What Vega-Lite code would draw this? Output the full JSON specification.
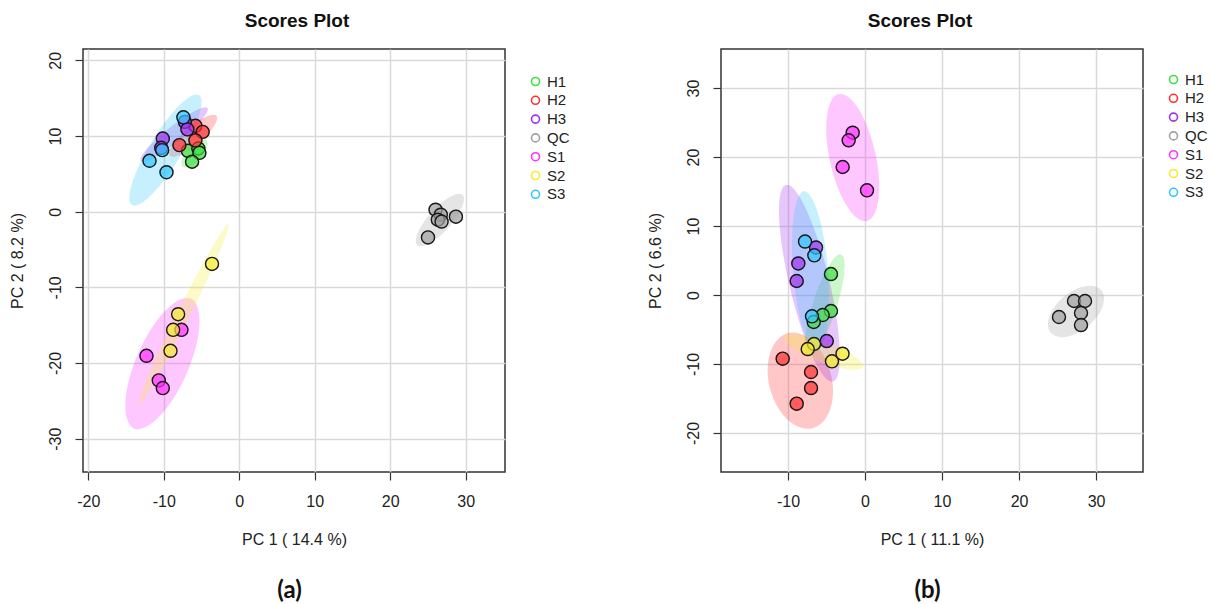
{
  "$schema": "https://vega.github.io/schema/vega-lite/v6.json",
  "background": "white",
  "padding": {"left": 8, "top": 11, "right": 5, "bottom": 5},
  "spacing": 75,
  "resolve": {"scale": {"fill": "independent", "shape": "independent", "stroke": "independent"}, "legend": {"stroke": "independent"}},
  "config": {
    "view": {"stroke": "#333333", "strokeWidth": 1.5},
    "axis": {
      "grid": true, "gridColor": "#d9d9d9", "gridWidth": 1.5,
      "domain": false, "tickColor": "#333333", "tickSize": 8, "tickWidth": 1.2,
      "labelFont": "Liberation Sans", "labelFontSize": 16, "labelColor": "#222222", "labelPadding": 12,
      "labelExpr": "'' + datum.value",
      "titleFont": "Liberation Sans", "titleFontSize": 16, "titleFontWeight": "normal", "titleColor": "#222222"
    },
    "axisX": {"titlePadding": 22, "labelPadding": 13},
    "axisY": {"labelAngle": -90, "labelAlign": "center", "labelBaseline": "bottom", "titlePadding": 22},
    "title": {"font": "Liberation Sans", "fontSize": 19, "fontWeight": "bold", "color": "#111111"}
  },
  "datasets": {
    "scoresA": [
      {"group": "H1", "pc1": -6.80, "pc2": 8.05},
      {"group": "H1", "pc1": -5.42, "pc2": 8.35},
      {"group": "H1", "pc1": -5.28, "pc2": 7.78},
      {"group": "H1", "pc1": -6.25, "pc2": 6.60},
      {"group": "H2", "pc1": -5.81, "pc2": 11.35},
      {"group": "H2", "pc1": -4.85, "pc2": 10.55},
      {"group": "H2", "pc1": -7.93, "pc2": 8.80},
      {"group": "H2", "pc1": -5.81, "pc2": 9.43},
      {"group": "H3", "pc1": -7.20, "pc2": 11.87},
      {"group": "H3", "pc1": -6.87, "pc2": 10.88},
      {"group": "H3", "pc1": -10.13, "pc2": 9.67},
      {"group": "H3", "pc1": -10.34, "pc2": 8.44},
      {"group": "QC", "pc1": 26.0, "pc2": 0.26},
      {"group": "QC", "pc1": 26.7, "pc2": -0.4},
      {"group": "QC", "pc1": 26.3, "pc2": -1.06},
      {"group": "QC", "pc1": 26.8, "pc2": -1.3},
      {"group": "QC", "pc1": 28.7, "pc2": -0.66},
      {"group": "QC", "pc1": 25.0, "pc2": -3.4},
      {"group": "S1", "pc1": -7.66, "pc2": -15.61},
      {"group": "S1", "pc1": -12.29, "pc2": -19.04},
      {"group": "S1", "pc1": -10.66, "pc2": -22.30},
      {"group": "S1", "pc1": -10.13, "pc2": -23.31},
      {"group": "S2", "pc1": -3.61, "pc2": -6.90},
      {"group": "S2", "pc1": -8.10, "pc2": -13.55},
      {"group": "S2", "pc1": -8.76, "pc2": -15.61},
      {"group": "S2", "pc1": -9.11, "pc2": -18.38},
      {"group": "S3", "pc1": -7.40, "pc2": 12.47},
      {"group": "S3", "pc1": -10.21, "pc2": 8.14},
      {"group": "S3", "pc1": -11.89, "pc2": 6.73},
      {"group": "S3", "pc1": -9.64, "pc2": 5.21}
    ],
    "scoresB": [
      {"group": "H1", "pc1": -4.42, "pc2": 3.04},
      {"group": "H1", "pc1": -4.42, "pc2": -2.32},
      {"group": "H1", "pc1": -5.49, "pc2": -2.90},
      {"group": "H1", "pc1": -6.66, "pc2": -3.91},
      {"group": "H2", "pc1": -10.69, "pc2": -9.23},
      {"group": "H2", "pc1": -7.01, "pc2": -11.16},
      {"group": "H2", "pc1": -7.01, "pc2": -13.48},
      {"group": "H2", "pc1": -8.87, "pc2": -15.75},
      {"group": "H3", "pc1": -6.36, "pc2": 6.88},
      {"group": "H3", "pc1": -8.66, "pc2": 4.57},
      {"group": "H3", "pc1": -8.87, "pc2": 2.03},
      {"group": "H3", "pc1": -4.97, "pc2": -6.67},
      {"group": "QC", "pc1": 27.14, "pc2": -0.87},
      {"group": "QC", "pc1": 28.57, "pc2": -0.87},
      {"group": "QC", "pc1": 28.05, "pc2": -2.61},
      {"group": "QC", "pc1": 28.05, "pc2": -4.35},
      {"group": "QC", "pc1": 25.19, "pc2": -3.19},
      {"group": "S1", "pc1": -1.60, "pc2": 23.52},
      {"group": "S1", "pc1": -2.12, "pc2": 22.42},
      {"group": "S1", "pc1": -2.90, "pc2": 18.55},
      {"group": "S1", "pc1": 0.26, "pc2": 15.17},
      {"group": "S2", "pc1": -6.62, "pc2": -7.10},
      {"group": "S2", "pc1": -7.44, "pc2": -7.83},
      {"group": "S2", "pc1": -4.29, "pc2": -9.61},
      {"group": "S2", "pc1": -2.92, "pc2": -8.51},
      {"group": "S3", "pc1": -7.79, "pc2": 7.75},
      {"group": "S3", "pc1": -6.58, "pc2": 5.75},
      {"group": "S3", "pc1": -6.88, "pc2": -3.09}
    ]
  },
  "hconcat": [
    {
      "title": {"text": "(a)", "orient": "bottom", "anchor": "middle", "font": "Lato", "fontSize": 24, "fontWeight": "bold", "color": "#111111", "offset": 31},
      "resolve": {"scale": {"fill": "independent", "shape": "independent", "stroke": "independent"}, "legend": {"stroke": "independent"}},
      "vconcat": [
        {
          "title": {"text": "Scores Plot", "frame": "group", "dx": 3, "offset": 18},
          "width": 422,
          "height": 423,
          "data": {"name": "scoresA"},
          "encoding": {
            "x": {"field": "pc1", "type": "quantitative",
                  "scale": {"domain": [-20.7, 35.2], "nice": false, "zero": false},
                  "axis": {"values": [-20, -10, 0, 10, 20, 30], "title": "PC 1 ( 14.4 %)"}},
            "y": {"field": "pc2", "type": "quantitative",
                  "scale": {"domain": [-34.4, 21.5], "nice": false, "zero": false},
                  "axis": {"values": [-30, -20, -10, 0, 10, 20], "title": "PC 2 ( 8.2 %)"}}
          },
          "layer": [
            {
              "transform": [{"aggregate": [{"op": "mean", "field": "pc1", "as": "pc1"}, {"op": "mean", "field": "pc2", "as": "pc2"}], "groupby": ["group"]}],
              "mark": {"type": "point", "filled": true, "size": 4, "fillOpacity": 0.27, "opacity": 1, "strokeWidth": 0, "clip": true},
              "encoding": {
                "fill": {"field": "group", "type": "nominal",
                         "scale": {"domain": ["S3", "S2", "S1", "QC", "H3", "H2", "H1"], "range": ["#30c8ff", "#f5eb30", "#ff30ff", "#a0a0a0", "#a030f0", "#ff3030", "#40e040"]},
                         "legend": null},
                "shape": {"field": "group", "type": "nominal",
                          "scale": {"domain": ["S3", "S2", "S1", "QC", "H3", "H2", "H1"],
                                    "range": [
                                      "M33.4,-55A64.3,16,-58.7,0,1,-33.4,55A64.3,16,-58.7,0,1,33.4,-55Z",
                                      "M45,-90.5A101.1,6.5,-63.6,0,1,-45,90.5A101.1,6.5,-63.6,0,1,45,-90.5Z",
                                      "M28.5,-65A71,27,-66.3,0,1,-28.5,65A71,27,-66.3,0,1,28.5,-65Z",
                                      "M22.8,-25.3A34.1,12,-48,0,1,-22.8,25.3A34.1,12,-48,0,1,22.8,-25.3Z",
                                      "M33.4,-26.5A42.6,8,-38.4,0,1,-33.4,26.5A42.6,8,-38.4,0,1,33.4,-26.5Z",
                                      "M23.5,-20A30.9,9.5,-40.4,0,1,-23.5,20A30.9,9.5,-40.4,0,1,23.5,-20Z",
                                      "M12.1,-13.3A18,8,-47.7,0,1,-12.1,13.3A18,8,-47.7,0,1,12.1,-13.3Z"
                                    ]},
                          "legend": null}
              }
            },
            {
              "mark": {"type": "point", "filled": false, "size": 170, "strokeWidth": 1, "opacity": 1},
              "encoding": {
                "stroke": {"field": "group", "type": "nominal",
                           "scale": {"domain": ["H1", "H2", "H3", "QC", "S1", "S2", "S3"], "range": ["#40e040", "#ff3030", "#a030f0", "#a0a0a0", "#ff30ff", "#f5eb30", "#30c8ff"]},
                           "legend": {"title": null, "orient": "none", "legendX": 445, "legendY": 25,
                                      "symbolType": "circle", "symbolSize": 64, "symbolStrokeWidth": 1.6, "symbolOpacity": 1,
                                      "labelFont": "Liberation Sans", "labelFontSize": 15, "labelColor": "#222222", "labelOffset": 4, "rowPadding": 2.8}}
              }
            },
            {
              "mark": {"type": "point", "filled": true, "size": 170, "fillOpacity": 0.7, "opacity": 1, "stroke": "#1a1a1a", "strokeWidth": 1.4},
              "encoding": {
                "fill": {"field": "group", "type": "nominal", "legend": null}
              }
            }
          ]
        }
      ]
    },
    {
      "title": {"text": "(b)", "orient": "bottom", "anchor": "middle", "font": "Lato", "fontSize": 24, "fontWeight": "bold", "color": "#111111", "offset": 31},
      "resolve": {"scale": {"fill": "independent", "shape": "independent", "stroke": "independent"}, "legend": {"stroke": "independent"}},
      "vconcat": [
        {
          "title": {"text": "Scores Plot", "frame": "group", "dx": -12, "offset": 18},
          "width": 422,
          "height": 423,
          "data": {"name": "scoresB"},
          "encoding": {
            "x": {"field": "pc1", "type": "quantitative",
                  "scale": {"domain": [-18.7, 36.1], "nice": false, "zero": false},
                  "axis": {"values": [-10, 0, 10, 20, 30], "title": "PC 1 ( 11.1 %)"}},
            "y": {"field": "pc2", "type": "quantitative",
                  "scale": {"domain": [-25.65, 35.65], "nice": false, "zero": false},
                  "axis": {"values": [-20, -10, 0, 10, 20, 30], "title": "PC 2 ( 6.6 %)"}}
          },
          "layer": [
            {
              "transform": [{"aggregate": [{"op": "mean", "field": "pc1", "as": "pc1"}, {"op": "mean", "field": "pc2", "as": "pc2"}], "groupby": ["group"]}],
              "mark": {"type": "point", "filled": true, "size": 4, "fillOpacity": 0.27, "opacity": 1, "strokeWidth": 0, "clip": true},
              "encoding": {
                "fill": {"field": "group", "type": "nominal",
                         "scale": {"domain": ["S3", "S2", "S1", "QC", "H3", "H2", "H1"], "range": ["#30c8ff", "#f5eb30", "#ff30ff", "#a0a0a0", "#a030f0", "#ff3030", "#40e040"]},
                         "legend": null},
                "shape": {"field": "group", "type": "nominal",
                          "scale": {"domain": ["S3", "S2", "S1", "QC", "H3", "H2", "H1"],
                                    "range": [
                                      "M-6.4,-80A80.3,18,-94.6,0,1,6.4,80A80.3,18,-94.6,0,1,-6.4,-80Z",
                                      "M39.3,15A42.1,11,20.9,0,1,-39.3,-15A42.1,11,20.9,0,1,39.3,15Z",
                                      "M-14,-63.5A65,23,-102.4,0,1,14,63.5A65,23,-102.4,0,1,-14,-63.5Z",
                                      "M25.3,-21.2A33,19,-40,0,1,-25.3,21.2A33,19,-40,0,1,25.3,-21.2Z",
                                      "M-23.4,-98.3A101,20,-103.4,0,1,23.4,98.3A101,20,-103.4,0,1,-23.4,-98.3Z",
                                      "M-12.4,-47.6A49.2,32,-104.6,0,1,12.4,47.6A49.2,32,-104.6,0,1,-12.4,-47.6Z",
                                      "M16.5,-51A53.6,12,-72.1,0,1,-16.5,51A53.6,12,-72.1,0,1,16.5,-51Z"
                                    ]},
                          "legend": null}
              }
            },
            {
              "mark": {"type": "point", "filled": false, "size": 170, "strokeWidth": 1, "opacity": 1},
              "encoding": {
                "stroke": {"field": "group", "type": "nominal",
                           "scale": {"domain": ["H1", "H2", "H3", "QC", "S1", "S2", "S3"], "range": ["#40e040", "#ff3030", "#a030f0", "#a0a0a0", "#ff30ff", "#f5eb30", "#30c8ff"]},
                           "legend": {"title": null, "orient": "none", "legendX": 445, "legendY": 23,
                                      "symbolType": "circle", "symbolSize": 64, "symbolStrokeWidth": 1.6, "symbolOpacity": 1,
                                      "labelFont": "Liberation Sans", "labelFontSize": 15, "labelColor": "#222222", "labelOffset": 4, "rowPadding": 2.8}}
              }
            },
            {
              "mark": {"type": "point", "filled": true, "size": 170, "fillOpacity": 0.7, "opacity": 1, "stroke": "#1a1a1a", "strokeWidth": 1.4},
              "encoding": {
                "fill": {"field": "group", "type": "nominal", "legend": null}
              }
            }
          ]
        }
      ]
    }
  ]
}
